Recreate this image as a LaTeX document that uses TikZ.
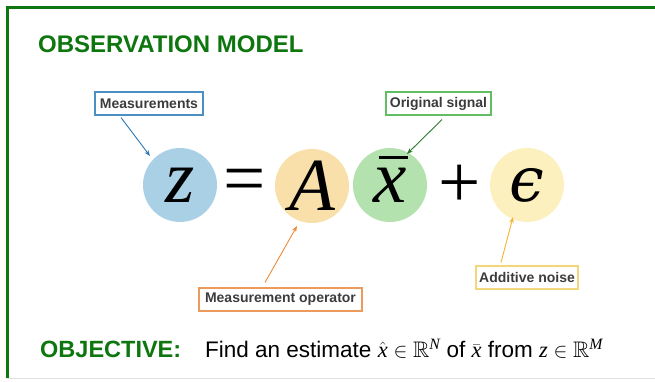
\documentclass[tikz,border=0pt]{standalone}
\usepackage{amsmath}
\usepackage{amssymb}
\usepackage{fontspec}
\newfontfamily\arialfont{Liberation Sans}
\newfontfamily\timesfont{Liberation Serif}
\newfontfamily\dejavuserif{DejaVu Serif}
\newcommand\tmi[1]{\text{\timesfont\itshape #1}}
\newcommand\bigxbar{\ooalign{{\timesfont\itshape x}\cr\hidewidth\kern6pt\rule[43pt]{29pt}{2.8pt}\hidewidth\cr}}
\usetikzlibrary{arrows.meta}
\definecolor{frameGreen}{HTML}{0E760E}
\definecolor{titleGreen}{HTML}{0E760E}
\definecolor{zBlue}{HTML}{AAD0E6}
\definecolor{aOrange}{HTML}{F9E0AA}
\definecolor{xGreen}{HTML}{B3E2AF}
\definecolor{eYellow}{HTML}{FDF0BF}
\definecolor{labelText}{HTML}{3C3C3C}
\definecolor{bBlue}{HTML}{4A90C4}
\definecolor{bGreen}{HTML}{62BE62}
\definecolor{bOrange}{HTML}{EC9B5C}
\definecolor{bYellow}{HTML}{F1D67A}
\definecolor{aBlue}{HTML}{2A78B4}
\definecolor{aDGreen}{HTML}{2A7A2A}
\definecolor{aOr}{HTML}{EC8A38}
\definecolor{aYel}{HTML}{F4B232}
\tikzset{
  termcircle/.style={circle, minimum size=74pt, inner sep=0pt,
     font=\timesfont\itshape\fontsize{75}{75}\selectfont},
  bigsym/.style={inner sep=0pt, font=\timesfont\fontsize{75}{75}\selectfont},
  labelbox/.style={draw, line width=1.1pt, inner sep=0pt, minimum height=23pt,
     text=labelText, font=\arialfont\bfseries\fontsize{14}{14}\selectfont},
  pointer/.style={line width=0.9pt, -{Stealth[length=6pt,width=4.5pt]}},
  headline/.style={anchor=base west, inner sep=0pt, text=titleGreen,
     font=\arialfont\bfseries\fontsize{24}{24}\selectfont},
}
\begin{document}
\begin{tikzpicture}[x=1pt, y=-1pt]
\useasboundingbox (0,0) rectangle (655,381);
% frame
\draw[gray!25, line width=1pt] (7,378.5) -- (655,378.5);
\draw[frameGreen, line width=3pt] (7.5,378) -- (7.5,7.5) -- (655,7.5);
% title
\node[headline] (title) at (38,52) {OBSERVATION MODEL};
% equation
\node[termcircle, fill=zBlue] (zc) at (180,185) {z};
\node[bigsym] (eq) at (245,186) {=};
\node[termcircle, fill=aOrange] (ac) at (312,186) {A};
\node[termcircle, fill=xGreen] (xc) at (390,185) {\bigxbar};
\node[bigsym] (plus) at (460,186) {+};
\node[termcircle, fill=eYellow, font=\dejavuserif\itshape\fontsize{62}{62}\selectfont] (ec) at (527,185) {ϵ};
% labels
\node[labelbox, draw=bBlue, minimum width=108pt] (meas) at (149,103.5) {Measurements};
\node[labelbox, draw=bGreen, minimum width=105pt] (orig) at (438.5,103.5) {Original signal};
\node[labelbox, draw=bOrange, minimum width=163pt] (oper) at (280.5,299.5) {Measurement operator};
\node[labelbox, draw=bYellow, minimum width=102pt] (noise) at (527,277.5) {Additive noise};
% pointers
\draw[pointer, aBlue] ([xshift=-28pt,yshift=-2pt]meas.south) -- ([xshift=-30pt,yshift=29pt]zc.center);
\draw[pointer, aDGreen] ([xshift=3.5pt,yshift=-4pt]orig.south) -- ([xshift=17pt,yshift=31pt]xc.center);
\draw[pointer, aOr] ([xshift=-15.5pt,yshift=5pt]oper.north) -- ([xshift=-15pt,yshift=-40pt]ac.center);
\draw[pointer, aYel] ([xshift=-26pt,yshift=3pt]noise.north) -- ([xshift=-14pt,yshift=-32pt]ec.center);
% objective
\node[headline, font=\arialfont\bfseries\fontsize{23.5}{23.5}\selectfont] (obj) at (40,357.5) {OBJECTIVE:};
\node[anchor=base west, inner sep=0pt, font=\arialfont\fontsize{22.5}{22.5}\selectfont] (objtext) at (205,357.5)
  {Find an estimate $\hat{\tmi{x}}\in\mathbb{R}^{\tmi{N}}$ of $\bar{\tmi{x}}$ from $\tmi{z}\in\mathbb{R}^{\tmi{M}}$};
\end{tikzpicture}
\end{document}
